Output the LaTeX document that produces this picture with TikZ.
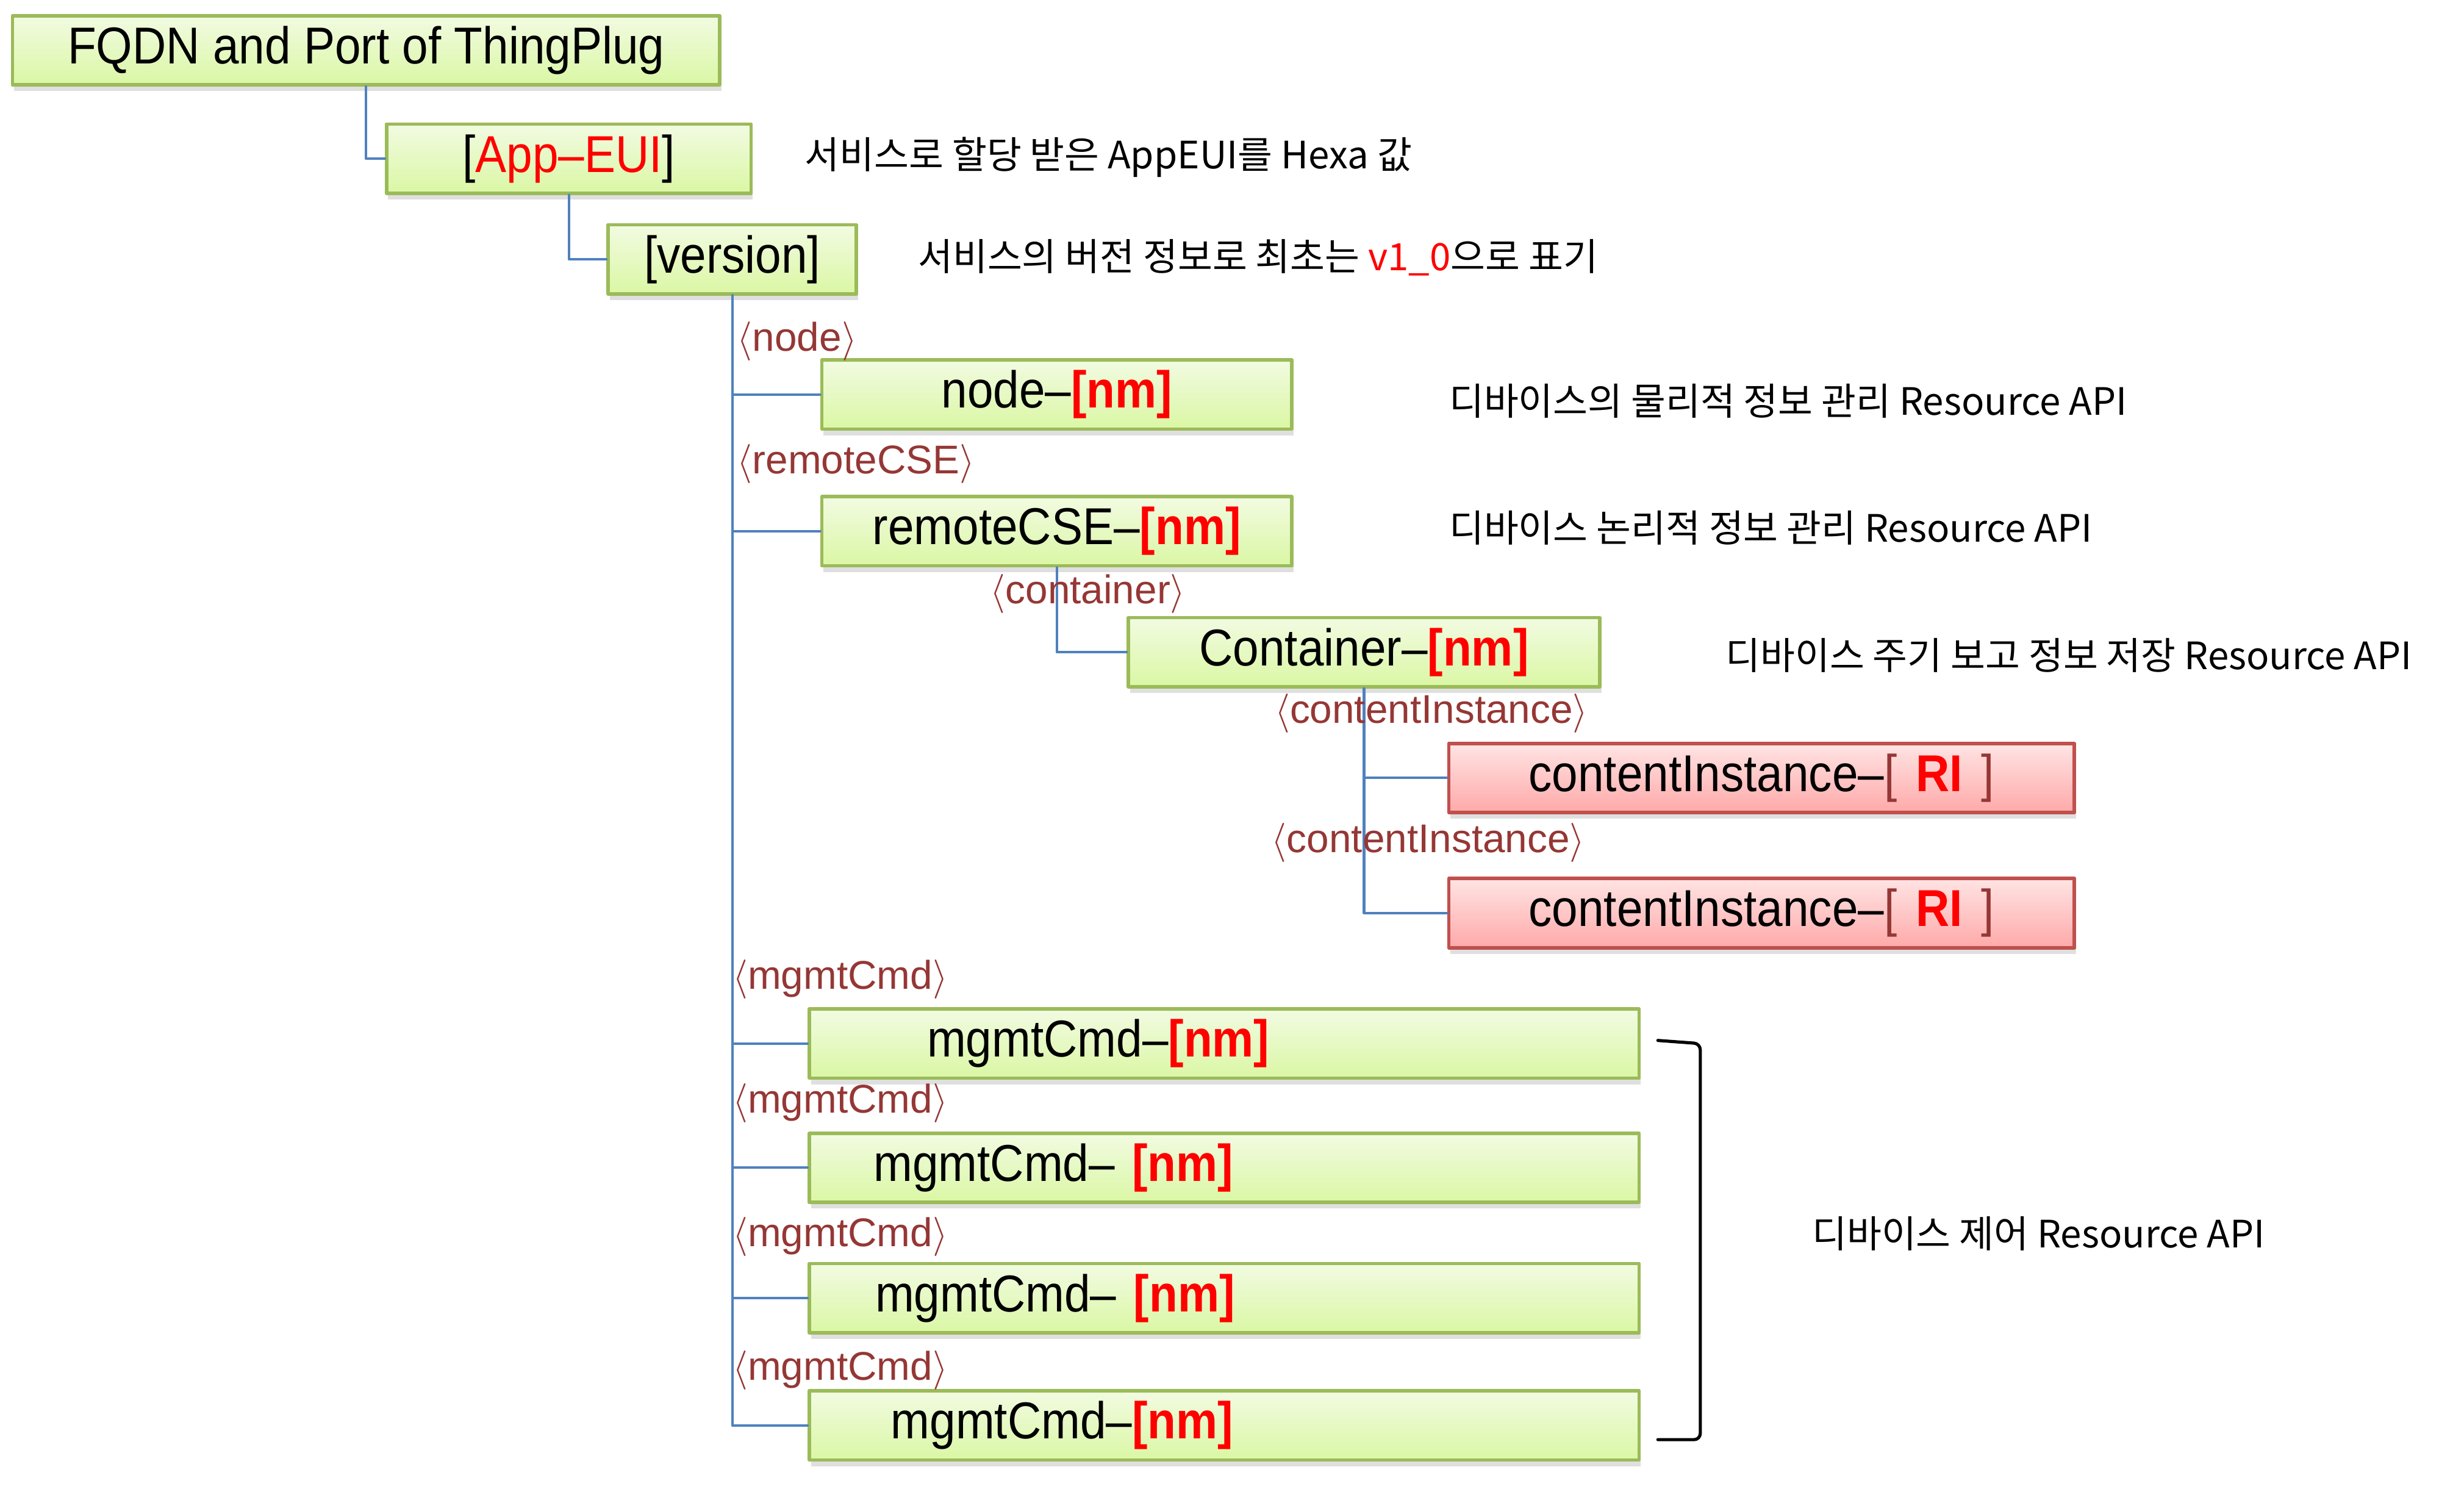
\documentclass[tikz,border=0pt]{standalone}
\usepackage{fontspec}
\setmainfont{Liberation Sans}
\newfontfamily\boxfont[FakeStretch=0.9]{Liberation Sans}
\newfontfamily\krfont{Noto Sans CJK KR}
\usetikzlibrary{shadows}

\definecolor{gline}{HTML}{9BBB59}
\definecolor{gtop}{HTML}{F2FBE2}
\definecolor{gbot}{HTML}{DAF7A4}
\definecolor{rline}{HTML}{C0504D}
\definecolor{rtop}{HTML}{FFE4E4}
\definecolor{rbot}{HTML}{FFA9A9}
\definecolor{treeblue}{HTML}{4F81BD}
\definecolor{tagred}{HTML}{953735}

\newcommand\nmtag{\textcolor{red}{\textbf{[nm]}}}
\newcommand\ritag{\textcolor{tagred}{[}\hspace{12pt}\textcolor{red}{\textbf{RI}}\hspace{12pt}\textcolor{tagred}{]}}
\newcommand\tagname[1]{$\langle$#1$\rangle$}

\tikzset{
  gbox/.style={draw=gline, line width=2.2pt, top color=gtop, bottom color=gbot,
    minimum height=44, inner sep=0pt, font=\boxfont\fontsize{33}{36}\selectfont,
    drop shadow={shadow xshift=1pt, shadow yshift=-4pt, opacity=0.25}},
  rbox/.style={gbox, draw=rline, top color=rtop, bottom color=rbot},
  tree/.style={draw=treeblue, line width=1.6pt},
  tagtext/.style={anchor=west, inner sep=0pt, text=tagred, font=\fontsize{25.5}{28}\selectfont},
  desc/.style={anchor=west, inner sep=0pt, font=\krfont\fontsize{24}{28}\selectfont},
}

\begin{document}
\begin{tikzpicture}[x=1pt,y=-1pt,line cap=round,line join=round]
\useasboundingbox (0,0) rectangle (1568,956);

% boxes
\node[gbox, minimum width=450] (fqdn) at (233,32) {FQDN and Port of ThingPlug};
\node[gbox, minimum width=232] (appeui) at (362,101) {[\textcolor{red}{App–EUI}]};
\node[gbox, minimum width=158] (version) at (466,165) {[version]};
\node[gbox, minimum width=299] (nodebox) at (672.5,251) {node–\nmtag};
\node[gbox, minimum width=299] (remote) at (672.5,338) {remoteCSE–\nmtag};
\node[gbox, minimum width=300] (cont) at (868,415) {Container–\nmtag};
\node[rbox, minimum width=398] (ci1) at (1121,495) {contentInstance–\ritag};
\node[rbox, minimum width=398] (ci2) at (1121,581) {contentInstance–\ritag};
\node[gbox, minimum width=528, text width=528, align=left] (mgmt1) at (779,664) {\hspace*{75pt}mgmtCmd–\nmtag};
\node[gbox, minimum width=528, text width=528, align=left] (mgmt2) at (779,743) {\hspace*{41pt}mgmtCmd– \nmtag};
\node[gbox, minimum width=528, text width=528, align=left] (mgmt3) at (779,826) {\hspace*{42pt}mgmtCmd– \nmtag};
\node[gbox, minimum width=528, text width=528, align=left] (mgmt4) at (779,907) {\hspace*{52pt}mgmtCmd–\nmtag};

% tree lines
\draw[tree] (fqdn.south) |- (appeui.west);
\draw[tree] (appeui.south) |- (version.west);
\draw[tree] (version.south) |- (nodebox.west);
\draw[tree] (version.south) |- (remote.west);
\draw[tree] (remote.south) |- (cont.west);
\draw[tree] (cont.south) |- (ci1.west);
\draw[tree] (cont.south) |- (ci2.west);
\draw[tree] (version.south) |- (mgmt1.west);
\draw[tree] (version.south) |- (mgmt2.west);
\draw[tree] (version.south) |- (mgmt3.west);
\draw[tree] (version.south) |- (mgmt4.west);

% resource type tags
\node[tagtext] (tnode) at (469,217) {\tagname{node}};
\node[tagtext] (tremote) at (469,295) {\tagname{remoteCSE}};
\node[tagtext] (tcont) at (630,378) {\tagname{container}};
\node[tagtext] (tci1) at (811,454) {\tagname{contentInstance}};
\node[tagtext] (tci2) at (809,536) {\tagname{contentInstance}};
\node[tagtext] (tm1) at (466,623) {\tagname{mgmtCmd}};
\node[tagtext] (tm2) at (466,702) {\tagname{mgmtCmd}};
\node[tagtext] (tm3) at (466,787) {\tagname{mgmtCmd}};
\node[tagtext] (tm4) at (466,872) {\tagname{mgmtCmd}};

% descriptions
\node[desc] (dapp) at (512,100) {서비스로 할당 받은 AppEUI를 Hexa 값};
\node[desc] (dver) at (584,164) {서비스의 버전 정보로 최초는 \textcolor{red}{v1\_0}으로 표기};
\node[desc] (dnode) at (922,255) {디바이스의 물리적 정보 관리 Resource API};
\node[desc] (dremote) at (922,336) {디바이스 논리적 정보 관리 Resource API};
\node[desc] (dcont) at (1098,417) {디바이스 주기 보고 정보 저장 Resource API};

% bracket over mgmtCmd
\coordinate (brtop) at (1055,662);
\coordinate (brbot) at (1055,916);
\draw[line width=2pt, rounded corners=4pt] (brtop) -- ++(27,2) |- (brbot);
\node[desc] (dmgmt) at (1153,785) {디바이스 제어 Resource API};
\end{tikzpicture}
\end{document}
